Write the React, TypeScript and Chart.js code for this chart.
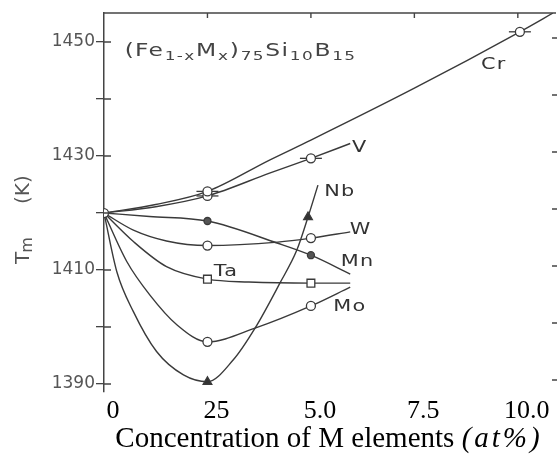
import React, { useEffect, useRef } from "react";
import { Chart, registerables } from "chart.js";

Chart.register(...registerables);

// ---- axis ticks ----
const xTicks = [0, 2.5, 5, 7.5, 10];
const xTickLabels = ["0", "25", "5.0", "7.5", "10.0"];
const yTicks = [1390, 1400, 1410, 1420, 1430, 1440, 1450];
const yTickLabels = ["1390", "", "1410", "", "1430", "", "1450"];

// ---- series (x = at%, y = Tm in K); marks: 1 = symbol drawn ----
const crX = [0, 1.25, 2.5, 4, 5, 7.5, 10.05, 10.9];
const crY = [1420, 1421.5, 1423.8, 1429.3, 1432.8, 1441.9, 1451.8, 1455.3];
const crMarks = [1, 0, 1, 0, 0, 0, 1, 0];

const vX = [0, 1.25, 2.5, 4, 5, 5.95];
const vY = [1420, 1421.1, 1423.0, 1427.0, 1429.6, 1432.2];
const vMarks = [0, 0, 1, 0, 1, 0];

const mnX = [0, 1.1, 2.5, 4.2, 5, 5.95];
const mnY = [1420, 1419.4, 1418.6, 1414.7, 1412.6, 1409.3];
const mnMarks = [0, 0, 1, 0, 1, 0];

const wX = [0, 0.71, 1.51, 2.5, 4.2, 5, 5.95];
const wY = [1420, 1417.0, 1415.1, 1414.3, 1414.9, 1415.6, 1416.7];
const wMarks = [0, 0, 0, 1, 0, 1, 0];

const taX = [0, 0.71, 1.51, 2.5, 3.5, 5, 5.95];
const taY = [1420, 1415.0, 1410.6, 1408.4, 1407.9, 1407.7, 1407.7];
const taMarks = [0, 0, 0, 1, 0, 1, 0];

const moX = [0, 0.55, 1.11, 1.76, 2.5, 3.65, 5, 5.95];
const moY = [1420, 1411.5, 1405.6, 1400.4, 1397.4, 1399.8, 1403.7, 1407.0];
const moMarks = [0, 0, 0, 0, 1, 0, 1, 0];

const nbX = [0, 0.31, 0.71, 1.27, 1.92, 2.5, 3.12, 3.65, 4.25, 4.66, 4.93, 5.17];
const nbY = [1420, 1409.7, 1402.7, 1395.7, 1391.6, 1390.4, 1394.2, 1399.8, 1407.7, 1413.5, 1419.3, 1424.9];
const nbMarks = [0, 0, 0, 0, 0, 1, 0, 0, 0, 0, 1, 0];

// horizontal error bars on Cr and V points
const errX = [2.5, 10.05, 2.5, 5];
const errY = [1423.8, 1451.8, 1423.0, 1429.6];

// curve labels
const curveNames = ["Cr", "V", "Nb", "W", "Mn", "Ta", "Mo"];
const curveLabelX = [9.42, 6.18, 5.7, 6.2, 6.13, 2.95, 5.94];
const curveLabelY = [1446, 1431.4, 1423.7, 1417, 1411.4, 1409.6, 1403.5];

const X_MIN = 0;
const X_MAX = 10.85;
const Y_MIN = 1388.6;
const Y_MAX = 1455.1;

const LINE = "#3a3a3a";

function pts(xs: number[], ys: number[]) {
  return xs.map((x, i) => ({ x, y: ys[i] }));
}

function series(
  label: string,
  xs: number[],
  ys: number[],
  marks: number[],
  style: string,
  radius: number,
  fill: string
) {
  return {
    label,
    data: pts(xs, ys),
    borderColor: LINE,
    borderWidth: 1.4,
    showLine: true,
    cubicInterpolationMode: "monotone" as const,
    pointStyle: style,
    pointRadius: marks.map((m) => (m ? radius : 0)),
    pointBorderColor: LINE,
    pointBorderWidth: 1.3,
    pointBackgroundColor: fill,
    fill: false,
  };
}

const STRETCH = 1.3;

function wideText(ctx: CanvasRenderingContext2D, t: string, x: number, y: number) {
  ctx.save();
  ctx.translate(x, y);
  ctx.scale(STRETCH, 1);
  ctx.fillText(t, 0, 0);
  ctx.restore();
}

const decorPlugin = {
  id: "decor",
  afterDraw(chart: any) {
    const ctx = chart.ctx as CanvasRenderingContext2D;
    const xs = chart.scales.x;
    const ys = chart.scales.y;
    const area = chart.chartArea;
    ctx.save();
    // top frame line with inward ticks
    ctx.strokeStyle = "#444";
    ctx.lineWidth = 1.4;
    ctx.beginPath();
    ctx.moveTo(area.left, area.top);
    ctx.lineTo(area.right + 3, area.top);
    ctx.stroke();
    ctx.beginPath();
    for (const v of xTicks.slice(1)) {
      const px = xs.getPixelForValue(v);
      ctx.moveTo(px, area.top);
      ctx.lineTo(px, area.top + 5);
    }
    // inward ticks on left axis, short ticks on right side
    for (const v of yTicks) {
      const py = ys.getPixelForValue(v);
      ctx.moveTo(area.left, py);
      ctx.lineTo(area.left + 7, py);
      ctx.moveTo(area.right - 1, py - 4);
      ctx.lineTo(area.right + 4, py - 4);
    }
    ctx.stroke();

    // curve labels
    ctx.fillStyle = "#333";
    ctx.font = "16px 'DejaVu Sans'";
    ctx.textAlign = "center";
    ctx.textBaseline = "middle";
    (ctx as any).letterSpacing = "1px";
    curveNames.forEach((n, i) => {
      wideText(ctx, n, xs.getPixelForValue(curveLabelX[i]), ys.getPixelForValue(curveLabelY[i]));
    });

    // formula
    const parts: [string, boolean][] = [
      ["(Fe", false], ["1-x", true], ["M", false], ["x", true], [")", false],
      ["75", true], ["Si", false], ["10", true], ["B", false], ["15", true],
    ];
    let fx = xs.getPixelForValue(0.5);
    const fy = ys.getPixelForValue(1448.6);
    ctx.textAlign = "left";
    ctx.textBaseline = "alphabetic";
    ctx.fillStyle = "#444";
    for (const [t, sub] of parts) {
      ctx.font = sub ? "13px 'DejaVu Sans'" : "18px 'DejaVu Sans'";
      wideText(ctx, t, fx, fy + (sub ? 10 : 6));
      fx += (ctx.measureText(t).width) * STRETCH + 0.5;
    }
    (ctx as any).letterSpacing = "0px";

    // y title "Tm (K)"
    ctx.save();
    ctx.translate(24, 264);
    ctx.rotate(-Math.PI / 2);
    ctx.fillStyle = "#555";
    ctx.textBaseline = "middle";
    ctx.font = "20px 'DejaVu Sans'";
    ctx.fillText("T", 0, 0);
    const tw = ctx.measureText("T").width;
    ctx.font = "16px 'DejaVu Sans'";
    ctx.fillText("m", tw - 1, 4);
    ctx.font = "20px 'DejaVu Sans'";
    ctx.fillText("(K)", 60, 0);
    ctx.restore();

    // x title
    ctx.fillStyle = "#000";
    ctx.textBaseline = "middle";
    ctx.textAlign = "left";
    const t1 = "Concentration of M elements ";
    const t2 = "(at%)";
    ctx.font = "29px 'Liberation Serif'";
    const w1 = ctx.measureText(t1).width;
    ctx.font = "italic 29px 'Liberation Serif'";
    (ctx as any).letterSpacing = "3px";
    const w2 = ctx.measureText(t2).width;
    const start = 329 - (w1 + w2) / 2;
    ctx.font = "29px 'Liberation Serif'";
    (ctx as any).letterSpacing = "0px";
    ctx.fillText(t1, start, 439);
    ctx.font = "italic 29px 'Liberation Serif'";
    (ctx as any).letterSpacing = "3px";
    ctx.fillText(t2, start + w1, 439);
    (ctx as any).letterSpacing = "0px";
    ctx.restore();
  },
};

export default function App() {
  const ref = useRef<HTMLCanvasElement | null>(null);
  useEffect(() => {
    if (!ref.current) return;
    const chart = new Chart(ref.current, {
      type: "line",
      data: {
        datasets: [
          series("Cr", crX, crY, crMarks, "circle", 4.5, "#fff"),
          series("V", vX, vY, vMarks, "circle", 4.5, "#fff"),
          series("Mn", mnX, mnY, mnMarks, "circle", 3.5, "#555"),
          series("W", wX, wY, wMarks, "circle", 4.5, "#fff"),
          series("Ta", taX, taY, taMarks, "rect", 5.5, "#fff"),
          series("Mo", moX, moY, moMarks, "circle", 4.5, "#fff"),
          series("Nb", nbX, nbY, nbMarks, "triangle", 5, "#333"),
          {
            label: "err",
            data: pts(errX, errY),
            showLine: false,
            pointStyle: "line",
            pointRadius: 11,
            pointBorderColor: LINE,
            pointBorderWidth: 1.3,
            borderColor: LINE,
          } as any,
        ],
      },
      options: {
        animation: false,
        responsive: false,
        layout: { autoPadding: false, padding: { top: 13, right: 4, left: 0, bottom: 0 } },
        plugins: { legend: { display: false }, tooltip: { enabled: false } },
        elements: { line: { tension: 0.4 } },
        scales: {
          x: {
            type: "linear",
            min: X_MIN,
            max: X_MAX,
            afterBuildTicks: (s: any) => {
              s.ticks = xTicks.map((v) => ({ value: v }));
            },
            afterFit: (s: any) => {
              s.height = 67;
              s.paddingLeft = 0;
              s.paddingRight = 0;
            },
            ticks: {
              callback: (v: any) => {
                const i = xTicks.indexOf(Number(v));
                return i >= 0 ? xTickLabels[i] : "";
              },
              font: { family: "'Liberation Serif'", size: 26 },
              color: "#000",
              padding: -4,
              labelOffset: 9,
              maxRotation: 0,
              autoSkip: false,
            },
            grid: { display: false },
            border: { display: false },
          },
          y: {
            type: "linear",
            min: Y_MIN,
            max: Y_MAX,
            afterBuildTicks: (s: any) => {
              s.ticks = yTicks.map((v) => ({ value: v }));
            },
            afterFit: (s: any) => {
              s.width = 104;
              s.paddingTop = 0;
              s.paddingBottom = 0;
            },
            ticks: {
              callback: (v: any) => {
                const i = yTicks.indexOf(Number(v));
                return i >= 0 ? yTickLabels[i] : "";
              },
              font: { family: "'DejaVu Sans'", size: 17 },
              color: "#555",
              padding: 1,
              autoSkip: false,
            },
            grid: { drawOnChartArea: false, tickLength: 8, color: "#444", lineWidth: 1.3 },
            border: { display: true, color: "#444", width: 1.5 },
          },
        },
      },
      plugins: [decorPlugin],
    } as any);
    return () => chart.destroy();
  }, []);
  return (
    <div style={{ position: "absolute", left: 0, top: 0, width: 557, height: 459, background: "#fff" }}>
      <canvas ref={ref} width={557} height={459} style={{ display: "block" }} />
    </div>
  );
}
